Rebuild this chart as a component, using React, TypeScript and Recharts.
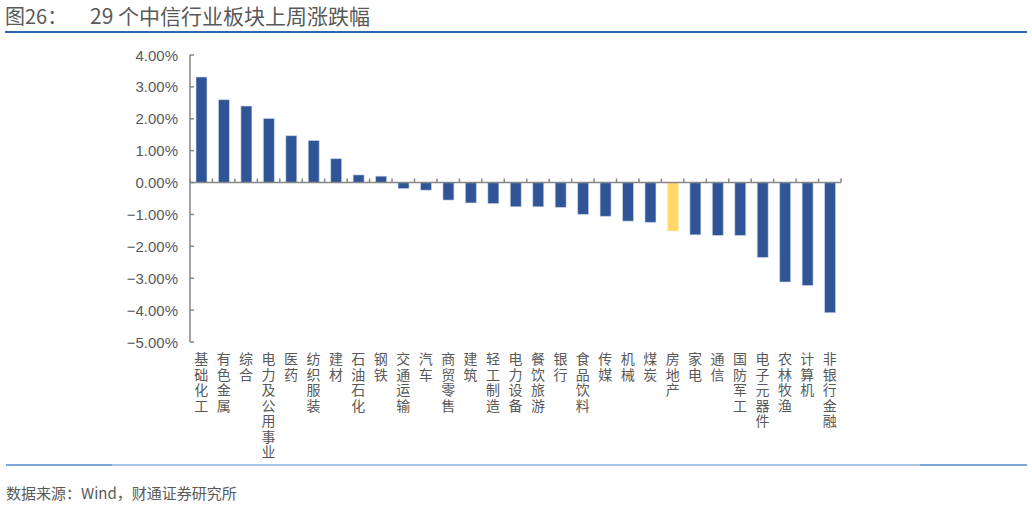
import React from 'react';
import { BarChart, Bar, XAxis, YAxis, Cell, ReferenceLine } from 'recharts';

const categories = [
  '基础化工', '有色金属', '综合', '电力及公用事业', '医药', '纺织服装', '建材', '石油石化', '钢铁',
  '交通运输', '汽车', '商贸零售', '建筑', '轻工制造', '电力设备', '餐饮旅游', '银行', '食品饮料',
  '传媒', '机械', '煤炭', '房地产', '家电', '通信', '国防军工', '电子元器件', '农林牧渔', '计算机', '非银行金融',
];
const values = [
  3.31, 2.6, 2.4, 2.01, 1.47, 1.32, 0.75, 0.24, 0.2,
  -0.19, -0.24, -0.55, -0.64, -0.66, -0.76, -0.76, -0.78, -1.0,
  -1.06, -1.21, -1.25, -1.52, -1.64, -1.66, -1.66, -2.35, -3.12, -3.23, -4.08,
];
const highlighted = ['房地产'];
const yTicks = [4, 3, 2, 1, 0, -1, -2, -3, -4, -5];

const data = categories.map((name, i) => ({ name, value: values[i] }));

const GRAY = '#595959';
const AXIS = '#868686';
const BLUE = '#2F5597';
const YELLOW = '#FFD966';

const fmtPct = (v: number) => (v < 0 ? '\u2212' : '') + Math.abs(v).toFixed(2) + '%';

const YTick = (props: any) => {
  const { x, y, payload } = props;
  return (
    <g>
      <line x1={x} x2={x + 4} y1={y} y2={y} stroke={AXIS} strokeWidth={1.5} />
      <text x={x - 12} y={y} textAnchor="end" dominantBaseline="central" fill={GRAY}
        fontSize={15} fontFamily="'Liberation Sans', Arial, sans-serif">
        {fmtPct(payload.value)}
      </text>
    </g>
  );
};

// category names are stacked one character per line
const XTick = (props: any) => {
  const { x, y, payload } = props;
  return (
    <text x={x} y={y + 10} textAnchor="start" fill={GRAY} fontSize={14}
      fontFamily="'Noto Sans CJK SC', sans-serif"
      style={{ writingMode: 'vertical-rl', letterSpacing: '1.5px' }}>
      {payload.value}
    </text>
  );
};

const ZeroAxis = (props: any) => {
  const { x1, x2, y1 } = props;
  const n = categories.length;
  const step = (x2 - x1) / n;
  const ticks = [];
  for (let i = 0; i <= n; i++) {
    const tx = x1 + i * step;
    ticks.push(<line key={i} x1={tx} x2={tx} y1={y1} y2={y1 - 4} stroke={AXIS} strokeWidth={1.5} />);
  }
  return (
    <g>
      <line x1={x1} x2={x2} y1={y1} y2={y1} stroke={AXIS} strokeWidth={1.5} />
      {ticks}
    </g>
  );
};

const titleFont = "'Noto Sans CJK SC', sans-serif";

export default function App() {
  return (
    <div style={{ position: 'absolute', left: 0, top: 0, width: 1032, height: 507, background: '#fff', overflow: 'hidden' }}>
      <div style={{ position: 'absolute', left: 5, top: 3, fontSize: 20, color: GRAY, fontFamily: titleFont, whiteSpace: 'nowrap', lineHeight: '26px' }}>
        图26：
      </div>
      <div style={{ position: 'absolute', left: 90, top: 2, fontSize: 21, color: GRAY, fontFamily: titleFont, whiteSpace: 'nowrap', lineHeight: '27px' }}>
        29 个中信行业板块上周涨跌幅
      </div>
      <div style={{ position: 'absolute', left: 5, top: 31, width: 1022, height: 1.5, background: '#2A66B2' }} />

      <div style={{ position: 'absolute', left: 0, top: 0 }}>
        <BarChart width={1032} height={507} data={data} margin={{ top: 55, right: 191, bottom: 45, left: 0 }}>
          <YAxis type="number" domain={[-5, 4]} ticks={yTicks} interval={0} width={190}
            axisLine={{ stroke: AXIS, strokeWidth: 1.5 }} tickLine={false} tickSize={0} tickMargin={0}
            tick={<YTick />} />
          <XAxis dataKey="name" interval={0} height={120} axisLine={false} tickLine={false}
            tickSize={0} tickMargin={0} tick={<XTick />} />
          <ReferenceLine y={0} shape={<ZeroAxis />} />
          <Bar dataKey="value" barSize={11} isAnimationActive={false} strokeWidth={0.6}>
            {data.map((d) => (
              <Cell key={d.name} fill={highlighted.includes(d.name) ? YELLOW : BLUE}
                stroke={highlighted.includes(d.name) ? '#fff0c0' : '#d6dff0'} />
            ))}
          </Bar>
        </BarChart>
      </div>

      <div style={{ position: 'absolute', left: 6, top: 464, width: 106, height: 2, background: '#7EA6D6' }} />
      <div style={{ position: 'absolute', left: 112, top: 464, width: 808, height: 2, background: '#A9C6E6' }} />
      <div style={{ position: 'absolute', left: 920, top: 464, width: 107, height: 2, background: '#7EA6D6' }} />
      <div style={{ position: 'absolute', left: 6, top: 483, fontSize: 15, color: GRAY, fontFamily: titleFont, whiteSpace: 'nowrap', lineHeight: '20px' }}>
        数据来源：Wind，财通证券研究所
      </div>
    </div>
  );
}
